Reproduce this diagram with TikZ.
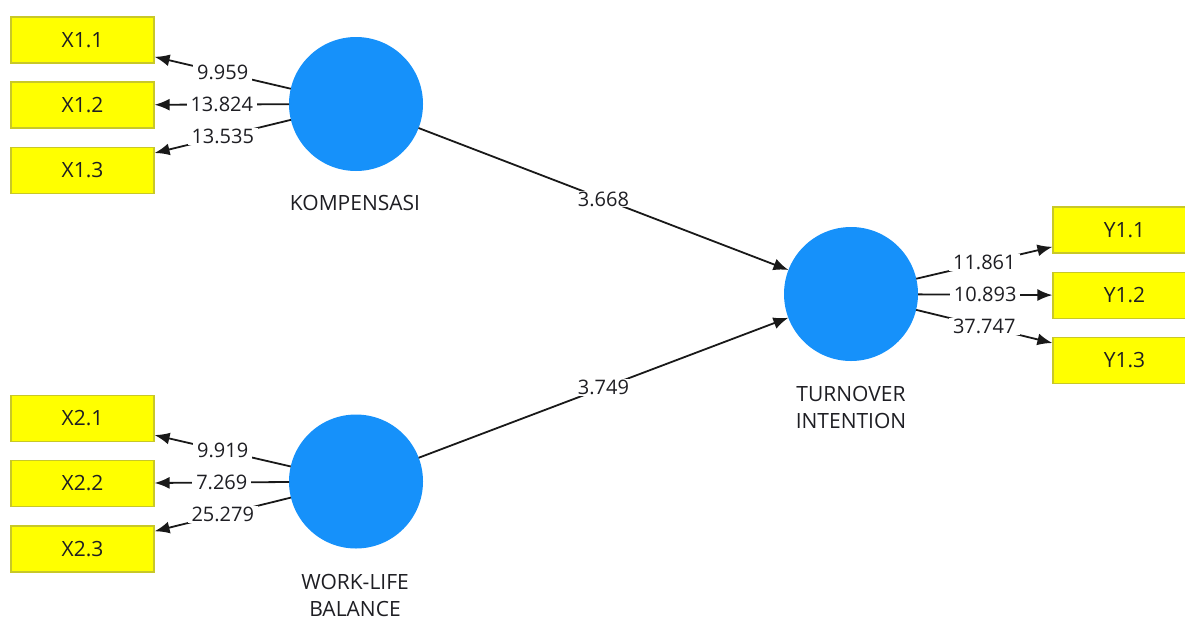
\documentclass[tikz,border=0pt]{standalone}
\usepackage{fontspec}
\setmainfont{Open Sans}
\usetikzlibrary{arrows.meta}
\definecolor{lvblue}{RGB}{22,145,250}
\definecolor{mvyellow}{RGB}{255,255,0}
\definecolor{mvborder}{RGB}{200,200,40}
\definecolor{txt}{RGB}{30,30,35}
\begin{document}
\begin{tikzpicture}[x=1pt,y=-1pt,
  lv/.style={circle, fill=lvblue, minimum size=134pt, inner sep=0pt, outer sep=0pt},
  mv/.style={rectangle, fill=mvyellow, draw=mvborder, line width=1.2pt, minimum width=143pt, minimum height=46pt, inner sep=0pt, text=txt, font=\fontsize{21}{24}\selectfont},
  lvname/.style={align=center, text=txt, font=\fontsize{21}{27}\selectfont, inner sep=0pt},
  conn/.style={draw=black!90, line width=1.8pt, -{Latex[length=15pt,width=12pt]}},
  val/.style={fill=white, inner xsep=4pt, inner ysep=1pt, text=txt, font=\fontsize{20}{22}\selectfont}
]
\useasboundingbox (0,0) rectangle (1185,619);
\clip (0,0) rectangle (1185,619);
% indicators
\node[mv] (x11) at (82.5,40) {X1.1};
\node[mv] (x12) at (82.5,105) {X1.2};
\node[mv] (x13) at (82.5,170.5) {X1.3};
\node[mv] (x21) at (82.5,418.5) {X2.1};
\node[mv] (x22) at (82.5,483.5) {X2.2};
\node[mv] (x23) at (82.5,549) {X2.3};
\node[mv] (y11) at (1124.5,230) {Y1.1};
\node[mv] (y12) at (1124.5,295.5) {Y1.2};
\node[mv] (y13) at (1124.5,360.5) {Y1.3};
% latent variables
\node[lv] (k) at (356,104) {};
\node[lv] (w) at (356,481.5) {};
\node[lv] (t) at (851,294) {};
\node[lvname] (kn) at (355,203) {KOMPENSASI};
\node[lvname] (wn) at (355,595) {WORK-LIFE\\BALANCE};
\node[lvname] (tn) at (851,407) {TURNOVER\\INTENTION};
% outer loadings
\draw[conn] (k) -- node[val] {9.959} (x11);
\draw[conn] (k) -- node[val] {13.824} (x12);
\draw[conn] (k) -- node[val] {13.535} (x13);
\draw[conn] (w) -- node[val] {9.919} (x21);
\draw[conn] (w) -- node[val] {7.269} (x22);
\draw[conn] (w) -- node[val] {25.279} (x23);
\draw[conn] (t) -- node[val] {11.861} (y11);
\draw[conn] (t) -- node[val] {10.893} (y12);
\draw[conn] (t) -- node[val] {37.747} (y13);
% paths
\draw[conn] (k) -- node[val] {3.668} (t);
\draw[conn] (w) -- node[val] {3.749} (t);
\end{tikzpicture}
\end{document}
